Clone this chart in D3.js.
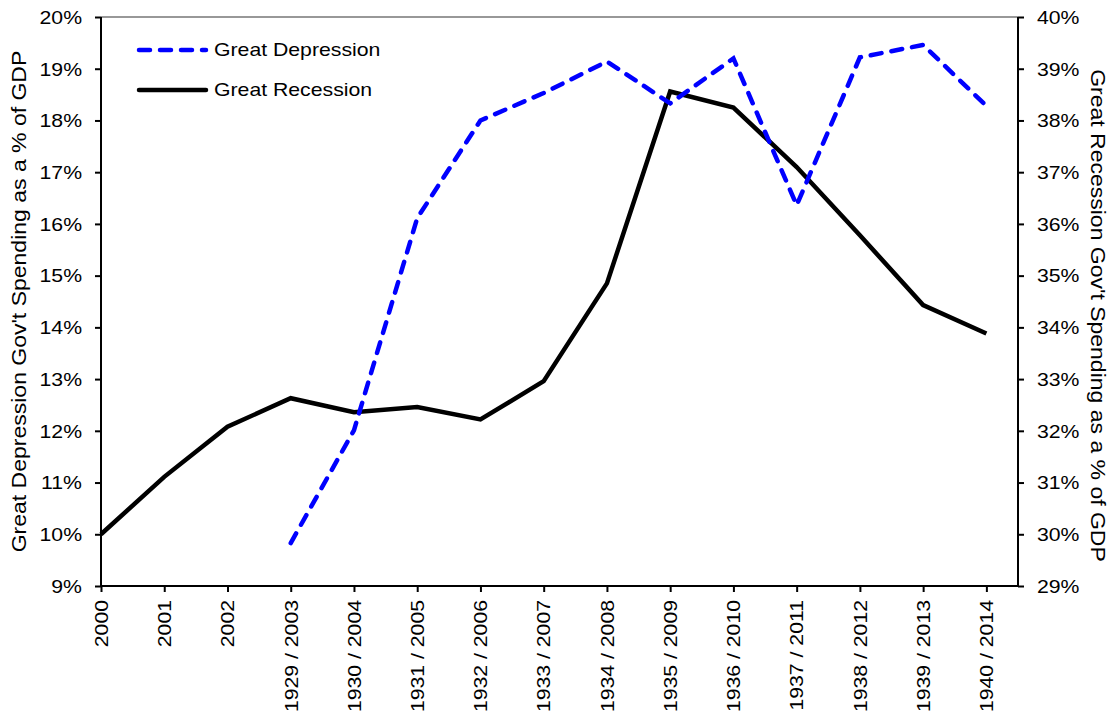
<!DOCTYPE html>
<html>
<head>
<meta charset="utf-8">
<script src="https://cdn.jsdelivr.net/npm/d3@7"></script>
<style>
body { margin: 0; background: #fff; }
svg { font-family: "Liberation Sans", Arial, sans-serif; }
</style>
</head>
<body>
<svg id="chart" width="1114" height="711"></svg>
<script>
const categories = ["2000","2001","2002","1929 / 2003","1930 / 2004","1931 / 2005","1932 / 2006","1933 / 2007","1934 / 2008","1935 / 2009","1936 / 2010","1937 / 2011","1938 / 2012","1939 / 2013","1940 / 2014"];
const greatDepression = [null,null,null,9.83,12.01,16.11,18.0,18.53,19.14,18.33,19.2,16.36,19.22,19.46,18.28];
const greatRecession = [30.0,31.11,32.08,32.63,32.36,32.46,32.22,32.96,34.85,38.56,38.25,37.1,35.78,34.43,33.88];
const leftTicks = [9,10,11,12,13,14,15,16,17,18,19,20];
const rightTicks = [29,30,31,32,33,34,35,36,37,38,39,40];

const STRETCH = 1.18;
const svg = d3.select("#chart");
const L = 101, R = 1018, T = 17, B = 586;
const x = d3.scaleLinear().domain([0, categories.length - 0.5]).range([L, R]);
const yL = d3.scaleLinear().domain([9, 20]).range([B, T]);
const yR = d3.scaleLinear().domain([29, 40]).range([B, T]);

// top frame
svg.append("line").attr("x1", L).attr("x2", R).attr("y1", T).attr("y2", T)
  .attr("stroke", "#333").attr("stroke-width", 1.2);

// axes
const gL = svg.append("g").attr("transform", `translate(${L},0)`)
  .call(d3.axisLeft(yL).tickValues(leftTicks).tickSize(6).tickSizeOuter(0).tickFormat(d => d + "%"));
const gR = svg.append("g").attr("transform", `translate(${R},0)`)
  .call(d3.axisRight(yR).tickValues(rightTicks).tickSize(6).tickSizeOuter(0).tickFormat(d => d + "%"));
const gB = svg.append("g").attr("transform", `translate(0,${B})`)
  .call(d3.axisBottom(x).tickValues(d3.range(categories.length)).tickSize(6).tickSizeOuter(0).tickFormat(i => categories[i]));

[gL, gR, gB].forEach(g => {
  g.select(".domain").attr("stroke", "#000").attr("stroke-width", 2);
  g.selectAll(".tick line").attr("stroke", "#000").attr("stroke-width", 2);
  g.selectAll("text").attr("fill", "#000").attr("font-size", 18)
    .attr("font-family", "'Liberation Sans', Arial, sans-serif")
    .attr("x", 0).attr("y", 0).attr("dy", "0.35em");
});
gL.select(".domain").attr("d", `M0,${B}V${T}`);
gR.select(".domain").attr("d", `M0,${B}V${T}`);
gB.select(".domain").attr("d", `M${L},0H${R}`);
gL.selectAll("text").attr("text-anchor", "end")
  .attr("transform", `translate(-19,0) scale(${STRETCH},1)`);
gR.selectAll("text").attr("text-anchor", "start")
  .attr("transform", `translate(19,0) scale(${STRETCH},1)`);
gB.selectAll("text").attr("text-anchor", "end")
  .attr("transform", `translate(0,14) rotate(-90) scale(${STRETCH},1)`);

// axis titles
svg.append("text")
  .attr("transform", `translate(26,${(T + B) / 2}) rotate(-90) scale(${STRETCH},1)`)
  .attr("text-anchor", "middle").attr("font-size", 19.5).attr("fill", "#000")
  .text("Great Depression Gov't Spending as a % of GDP");
svg.append("text")
  .attr("transform", `translate(1091,${(T + B) / 2 + 14}) rotate(90) scale(${STRETCH},1)`)
  .attr("text-anchor", "middle").attr("font-size", 19.5).attr("fill", "#000")
  .text("Great Recession Gov't Spending as a % of GDP");

// lines
const lineL = d3.line().defined(d => d != null).x((d, i) => x(i)).y(d => yL(d));
const lineR = d3.line().defined(d => d != null).x((d, i) => x(i)).y(d => yR(d));

svg.append("path").datum(greatRecession)
  .attr("d", lineR).attr("fill", "none").attr("stroke", "#000")
  .attr("stroke-width", 4.5).attr("stroke-linejoin", "miter");

svg.append("path").datum(greatDepression)
  .attr("d", lineL).attr("fill", "none").attr("stroke", "#0000ff")
  .attr("stroke-width", 4.5).attr("stroke-linecap", "round")
  .attr("stroke-dasharray", "11,10");

// legend
const legend = svg.append("g");
legend.append("line").attr("x1", 139).attr("x2", 206).attr("y1", 50).attr("y2", 50)
  .attr("stroke", "#0000ff").attr("stroke-width", 4.5).attr("stroke-linecap", "round")
  .attr("stroke-dasharray", "11,10");
legend.append("text").attr("transform", `translate(214,50) scale(${STRETCH},1)`).attr("dy", "0.35em")
  .attr("font-size", 18).attr("fill", "#000").text("Great Depression");
legend.append("line").attr("x1", 139).attr("x2", 206).attr("y1", 90).attr("y2", 90)
  .attr("stroke", "#000").attr("stroke-width", 4.5).attr("stroke-linecap", "round");
legend.append("text").attr("transform", `translate(214,90) scale(${STRETCH},1)`).attr("dy", "0.35em")
  .attr("font-size", 18).attr("fill", "#000").text("Great Recession");
</script>
</body>
</html>
